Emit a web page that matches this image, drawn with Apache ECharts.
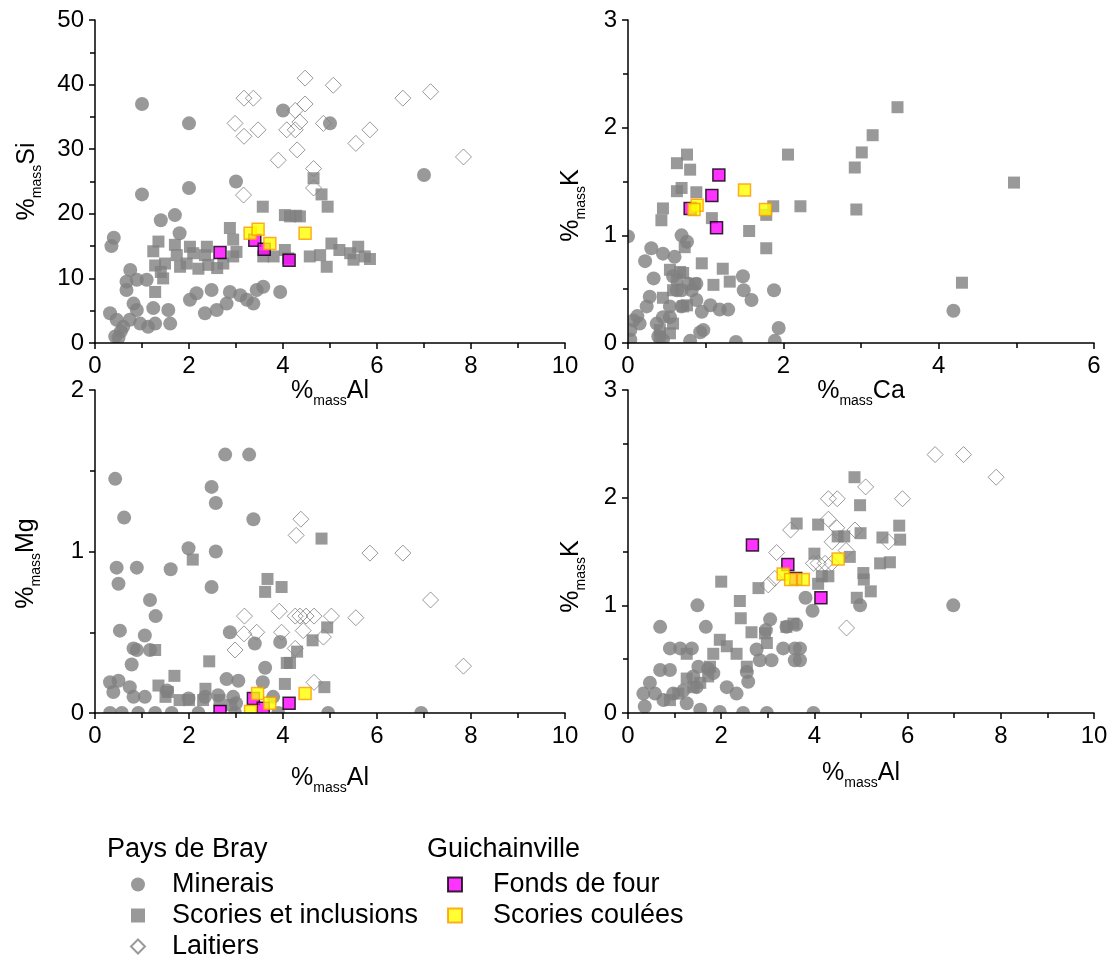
<!DOCTYPE html>
<html>
<head>
<meta charset="utf-8">
<script src="https://cdn.jsdelivr.net/npm/echarts@6/dist/echarts.min.js"></script>
<style>
html,body{margin:0;padding:0;background:#fff;}
#chart{width:1114px;height:959px;}
</style>
</head>
<body>
<div id="chart"></div>
<script>
// ---------- DATA ----------
// Panel 1: %mass Si vs %mass Al
const p1_minerais = [[1.0,37],[2.0,34],[1.0,23],[2.0,24],[3.0,25],[4.0,36],[5.0,34],[7.0,26],[1.4,19],[1.7,19.8],[1.8,17],[0.4,16.3],[0.35,15],[0.75,11.3],[0.67,9.5],[0.67,8.2],[0.89,9.8],[1.1,9.8],[0.32,4.6],[0.46,3.6],[0.43,1.0],[0.6,2.5],[0.82,6.1],[0.89,5.1],[0.74,3.6],[0.96,3.0],[1.13,2.5],[1.28,3.0],[1.24,5.4],[1.56,5.1],[1.6,3.0],[2.02,6.7],[2.16,7.7],[2.34,4.6],[2.48,8.2],[2.59,5.1],[2.8,6.1],[2.87,7.9],[3.09,7.4],[3.23,6.7],[3.37,6.1],[3.44,8.2],[3.58,8.7],[3.94,7.9],[0.55,1.8],[0.5,0.8]];
const p1_scories = [[4.65,25.5],[4.82,23],[4.95,21.1],[3.57,21.1],[4.04,19.8],[4.15,19.6],[4.28,19.7],[4.36,19.6],[2.87,17.8],[2.94,16],[1.35,15.7],[1.24,14.2],[1.28,12],[1.49,12.3],[1.45,10],[1.28,7.9],[1.7,15.2],[1.74,13.6],[1.81,11.8],[2.02,14.9],[1.95,12.3],[2.09,13.9],[2.38,14.9],[2.41,12.1],[2.34,13.6],[2.73,12.3],[3.01,14.1],[2.94,13.4],[3.58,13.4],[3.8,13.4],[4.11,13.1],[4.04,14.4],[4.57,13.4],[4.79,13.6],[4.93,11.8],[5.03,15.4],[5.2,14.4],[5.43,13.9],[5.6,14.9],[5.74,13.4],[5.85,13.0],[5.5,12.9],[1.4,11],[2.2,11.5],[2.6,11.6]];
const p1_laitiers = [[3.17,37.9],[3.37,37.9],[2.98,34],[3.47,33],[3.17,32],[3.9,28.3],[4.08,33],[4.26,33],[4.36,34.2],[4.47,37],[4.26,36],[4.3,29.9],[4.86,34],[4.65,27],[4.65,24],[3.16,22.9],[4.47,41],[5.07,39.9],[5.85,33],[5.55,30.9],[6.55,37.9],[7.14,38.9],[7.84,28.8]];
const p1_fonds = [[2.66,14],[3.4,15.9],[3.6,14.5],[4.13,12.8]];
const p1_coulees = [[3.3,17],[3.47,17.6],[3.72,15.4],[4.47,17]];

// Panel 2: %mass K vs %mass Ca
const p2_minerais = [[0.0,0.99],[0.3,0.88],[0.22,0.76],[0.45,0.83],[0.69,1.0],[0.76,0.94],[0.6,0.8],[0.33,0.6],[0.63,0.49],[0.78,0.55],[0.88,0.55],[0.28,0.43],[0.24,0.34],[0.07,0.21],[0.03,0.12],[0.15,0.18],[0.37,0.18],[0.54,0.24],[0.39,0.06],[0.45,0.03],[0.8,0.02],[0.93,0.1],[0.97,0.12],[1.06,0.35],[0.95,0.29],[1.18,0.31],[1.29,0.31],[1.48,0.62],[1.49,0.49],[1.59,0.4],[1.88,0.49],[1.94,0.14],[1.89,0.02],[1.39,0.01],[0.88,0.4],[0.82,0.49],[0.69,0.49],[0.69,0.34],[0.58,0.62],[4.19,0.3],[0.03,0.03],[0.45,0.24],[0.54,0.34],[0.12,0.25]];
const p2_scories = [[0.76,1.75],[0.63,1.67],[0.8,1.61],[0.69,1.44],[0.63,1.41],[0.88,1.40],[2.06,1.75],[2.22,1.27],[1.87,1.27],[1.78,1.19],[1.56,1.04],[1.78,0.88],[1.08,1.16],[0.45,1.25],[0.43,1.14],[0.73,0.89],[0.95,0.74],[1.22,0.69],[1.1,0.54],[1.31,0.57],[0.86,0.55],[0.71,0.65],[0.63,0.59],[0.54,0.68],[0.67,0.66],[0.58,0.49],[0.45,0.42],[0.76,0.35],[0.71,0.34],[0.58,0.18],[0.54,0.09],[0.41,0.12],[0.41,0.06],[3.47,2.19],[3.15,1.93],[3.01,1.77],[2.92,1.63],[2.94,1.24],[4.97,1.49],[4.3,0.56]];
const p2_laitiers = [];
const p2_fonds = [[1.17,1.56],[1.08,1.37],[1.14,1.07],[0.8,1.25]];
const p2_coulees = [[1.5,1.42],[1.77,1.24],[0.89,1.28],[0.85,1.24]];

// Panel 3: %mass Mg vs %mass Al
const p3_minerais = [[0.43,1.45],[0.62,1.21],[2.77,1.6],[3.28,1.6],[2.48,1.4],[2.57,1.3],[3.37,1.2],[1.99,1.02],[2.57,1.0],[2.48,0.78],[0.46,0.9],[0.89,0.9],[1.61,0.89],[0.5,0.8],[1.17,0.7],[1.29,0.6],[0.53,0.51],[1.06,0.48],[0.82,0.4],[0.89,0.39],[1.17,0.39],[0.78,0.3],[2.87,0.5],[3.4,0.43],[3.94,0.44],[3.62,0.28],[3.57,0.19],[2.8,0.21],[3.05,0.2],[0.32,0.19],[0.5,0.2],[0.39,0.13],[0.74,0.16],[0.82,0.1],[1.06,0.1],[1.53,0.14],[1.99,0.09],[2.34,0.1],[2.62,0.11],[2.94,0.1],[3.0,0.06],[3.79,0.1],[0.32,0],[0.57,0],[0.92,0],[1.28,0],[1.63,0],[2.2,0],[2.98,0],[3.9,0],[4.96,0],[6.94,0]];
const p3_scories = [[2.08,0.95],[4.82,1.08],[3.67,0.83],[3.97,0.78],[3.62,0.75],[4.94,0.53],[4.63,0.45],[4.3,0.38],[4.08,0.31],[4.15,0.31],[4.04,0.18],[4.88,0.16],[2.43,0.32],[1.69,0.23],[1.28,0.39],[1.35,0.17],[1.5,0.1],[1.8,0.08],[2.0,0.08],[2.35,0.15],[2.3,0.08],[2.65,0.08],[2.9,0.05],[1.55,0.13]];
const p3_laitiers = [[4.38,1.2],[4.28,1.1],[3.18,0.6],[3.92,0.63],[4.26,0.6],[4.36,0.6],[4.49,0.6],[4.66,0.6],[5.03,0.6],[3.17,0.49],[3.44,0.5],[3.97,0.5],[2.98,0.39],[4.26,0.4],[4.66,0.19],[4.86,0.47],[4.43,0.51],[5.85,0.99],[6.55,0.99],[7.14,0.7],[7.84,0.29],[5.55,0.59]];
const p3_fonds = [[2.66,0.01],[3.37,0.09],[3.58,0.03],[4.13,0.06]];
const p3_coulees = [[3.46,0.12],[3.31,0.01],[3.72,0.06],[4.47,0.12]];

// Panel 4: %mass K vs %mass Al
const p4_minerais = [[1.49,1.0],[0.69,0.8],[1.67,0.8],[3.05,0.87],[3.4,0.8],[3.61,0.82],[3.81,1.07],[3.96,0.95],[4.98,1.0],[6.98,1.0],[2.96,0.77],[2.76,0.59],[2.83,0.49],[3.08,0.49],[3.33,0.6],[3.58,0.6],[3.58,0.49],[0.9,0.6],[1.12,0.6],[1.37,0.6],[0.69,0.4],[0.9,0.4],[1.51,0.43],[2.55,0.38],[2.58,0.29],[0.47,0.28],[0.33,0.18],[0.36,0.06],[0.58,0.18],[0.76,0.12],[0.97,0.18],[1.19,0.21],[1.26,0.09],[1.55,0.03],[1.97,0.01],[2.47,0.0],[2.98,0.0],[3.98,0.0],[2.33,0.18],[2.12,0.24],[1.83,0.37],[1.72,0.41],[1.4,0.34],[1.47,0.24],[3.69,0.6],[3.69,0.49]];
const p4_scories = [[2.0,1.22],[2.8,1.16],[2.4,1.04],[2.42,0.88],[2.65,0.75],[3.62,1.76],[4.08,1.75],[4.0,1.48],[4.08,1.2],[4.3,1.27],[4.16,1.27],[4.76,1.45],[4.64,1.64],[4.5,1.64],[4.99,1.67],[5.05,1.3],[4.91,1.07],[3.55,0.83],[3.4,0.8],[2.94,0.74],[2.98,0.65],[1.97,0.68],[1.83,0.55],[2.12,0.62],[2.33,0.55],[1.76,0.43],[1.72,0.34],[1.55,0.28],[1.26,0.55],[1.26,0.32],[1.4,0.24],[0.9,0.12],[1.08,0.18],[2.55,0.43],[4.86,2.19],[4.98,1.93],[5.82,1.74],[5.84,1.61],[5.46,1.63],[5.41,1.39],[5.62,1.40],[5.21,1.13],[5.06,1.24]];
const p4_laitiers = [[6.59,2.4],[7.2,2.4],[7.9,2.19],[5.1,2.1],[4.3,1.99],[4.49,1.99],[5.89,1.99],[4.3,1.8],[4.48,1.72],[4.87,1.7],[4.38,1.59],[5.59,1.59],[4.68,1.51],[4.23,1.39],[4.37,1.39],[4.69,0.79],[3.49,1.7],[3.19,1.49],[3.01,1.19],[3.15,1.25],[3.98,1.39],[4.08,1.39]];
const p4_fonds = [[2.67,1.56],[3.43,1.38],[4.14,1.07],[3.6,1.25]];
const p4_coulees = [[3.33,1.29],[3.49,1.24],[3.76,1.24],[4.51,1.43]];

// Axes
const xElements = ['Al','Ca','Al','Al'];
const yElements = ['Si','K','Mg','K'];
const xMax = [10,6,10,10];
const xInterval = [2,2,2,2];
const yMax = [50,3,2,3];
const yInterval = [10,1,1,1];

const seriesNames = ['Minerais','Scories et inclusions','Laitiers','Fonds de four','Scories coulées'];
const groupNames = ['Pays de Bray','Guichainville'];

const panels = [
  {minerais:p1_minerais, scories:p1_scories, laitiers:p1_laitiers, fonds:p1_fonds, coulees:p1_coulees},
  {minerais:p2_minerais, scories:p2_scories, laitiers:p2_laitiers, fonds:p2_fonds, coulees:p2_coulees},
  {minerais:p3_minerais, scories:p3_scories, laitiers:p3_laitiers, fonds:p3_fonds, coulees:p3_coulees},
  {minerais:p4_minerais, scories:p4_scories, laitiers:p4_laitiers, fonds:p4_fonds, coulees:p4_coulees}
];

// ---------- LAYOUT / STYLE ----------
const FONT = '"Liberation Sans", Arial, sans-serif';
const gridBoxes = [
  {left:95, top:20, width:470, height:323},
  {left:628, top:20, width:466, height:323},
  {left:95, top:390, width:470, height:323},
  {left:628, top:390, width:466, height:323}
];
const xNameGap = [28,28,48,43];
const yNameGap = [51,40,52,40];
const yNamePad = [[0,0,0,0],[0,48,0,0],[0,24,0,0],[0,50,0,0]];

const rich = {
  a:{fontSize:25, fontFamily:FONT, color:'#000', lineHeight:34},
  s:{fontSize:14, fontFamily:FONT, color:'#000', lineHeight:34, verticalAlign:'bottom'}
};
function nameText(el){ return '{a|%}{s|mass}{a|' + el + '}'; }

const axisLineStyle = {color:'#000', width:1.5};
function baseAxis(){
  return {
    type:'value', min:0, z:10,
    axisLine:{show:true, onZero:false, lineStyle:axisLineStyle},
    axisTick:{show:true, inside:false, length:6, lineStyle:axisLineStyle},
    minorTick:{show:true, splitNumber:2, length:5, lineStyle:axisLineStyle},
    splitLine:{show:false},
    minorSplitLine:{show:false},
    axisLabel:{color:'#000', fontSize:24, fontFamily:FONT},
    nameLocation:'middle'
  };
}

const xAxes = [], yAxes = [], grids = [], series = [], graphics = [];
for (let i=0;i<4;i++){
  grids.push(Object.assign({containLabel:false}, gridBoxes[i]));
  const xa = baseAxis();
  Object.assign(xa, {gridIndex:i, max:xMax[i], interval:xInterval[i], name:nameText(xElements[i]), nameGap:xNameGap[i],
    nameTextStyle:{rich:rich}});
  xa.axisLabel.margin = 11;
  xAxes.push(xa);
  const ya = baseAxis();
  Object.assign(ya, {gridIndex:i, max:yMax[i], interval:yInterval[i], name:nameText(yElements[i]), nameGap:yNameGap[i],
    nameRotate:90, nameTextStyle:{rich:rich, padding:yNamePad[i]}});
  ya.axisLabel.margin = 11;
  yAxes.push(ya);

  const p = panels[i];
  const common = {type:'scatter', xAxisIndex:i, yAxisIndex:i, animation:false, emphasis:{disabled:true}};
  series.push(Object.assign({}, common, {name:seriesNames[2], data:p.laitiers, symbol:'diamond', symbolSize:16,
    itemStyle:{color:'rgba(255,255,255,0)', borderColor:'#808080', borderWidth:1}}));
  series.push(Object.assign({}, common, {name:seriesNames[1], data:p.scories, symbol:'rect', symbolSize:12,
    itemStyle:{color:'#808080'}}));
  series.push(Object.assign({}, common, {name:seriesNames[0], data:p.minerais, symbol:'circle', symbolSize:14,
    itemStyle:{color:'#808080'}}));
  series.push(Object.assign({}, common, {name:seriesNames[3], data:p.fonds, symbol:'rect', symbolSize:12,
    itemStyle:{color:'#FF00FF', borderColor:'#000', borderWidth:1.5}}));
  series.push(Object.assign({}, common, {name:seriesNames[4], data:p.coulees, symbol:'rect', symbolSize:12,
    itemStyle:{color:'#FFFF00', borderColor:'#FF9900', borderWidth:1.5}}));

  // white masks so that markers are clipped at the axes (as in the reference)
  const g = gridBoxes[i];
  graphics.push({type:'rect', z:5, silent:true, shape:{x:g.left-12, y:g.top+g.height, width:g.width+24, height:10}, style:{fill:'#fff'}});
  graphics.push({type:'rect', z:5, silent:true, shape:{x:g.left-10, y:g.top-10, width:10, height:g.height+20}, style:{fill:'#fff'}});
}

graphics.push({type:'text', z:20, left:107, top:836, style:{text:groupNames[0], font:'27px ' + FONT, fill:'#000'}});
graphics.push({type:'text', z:20, left:427, top:836, style:{text:groupNames[1], font:'27px ' + FONT, fill:'#000'}});

const legendText = {fontSize:27, fontFamily:FONT, color:'#000', lineHeight:26};
const option = {
  animation:false,
  backgroundColor:'#fff',
  grid:grids,
  xAxis:xAxes,
  yAxis:yAxes,
  series:series,
  graphic:graphics,
  legend:[
    {data:[seriesNames[0],seriesNames[1],seriesNames[2]], orient:'vertical', left:125, top:866, height:100, itemWidth:14, itemHeight:14,
      itemGap:4, selectedMode:false, textStyle:Object.assign({padding:[0,0,0,22]}, legendText)},
    {data:[seriesNames[3],seriesNames[4]], orient:'vertical', left:442, top:866, height:100, itemWidth:14, itemHeight:14,
      itemGap:4, selectedMode:false, textStyle:Object.assign({padding:[0,0,0,26]}, legendText)}
  ]
};
const chart = echarts.init(document.getElementById('chart'), null, {renderer:'canvas'});
chart.setOption(option);
</script>
</body>
</html>
